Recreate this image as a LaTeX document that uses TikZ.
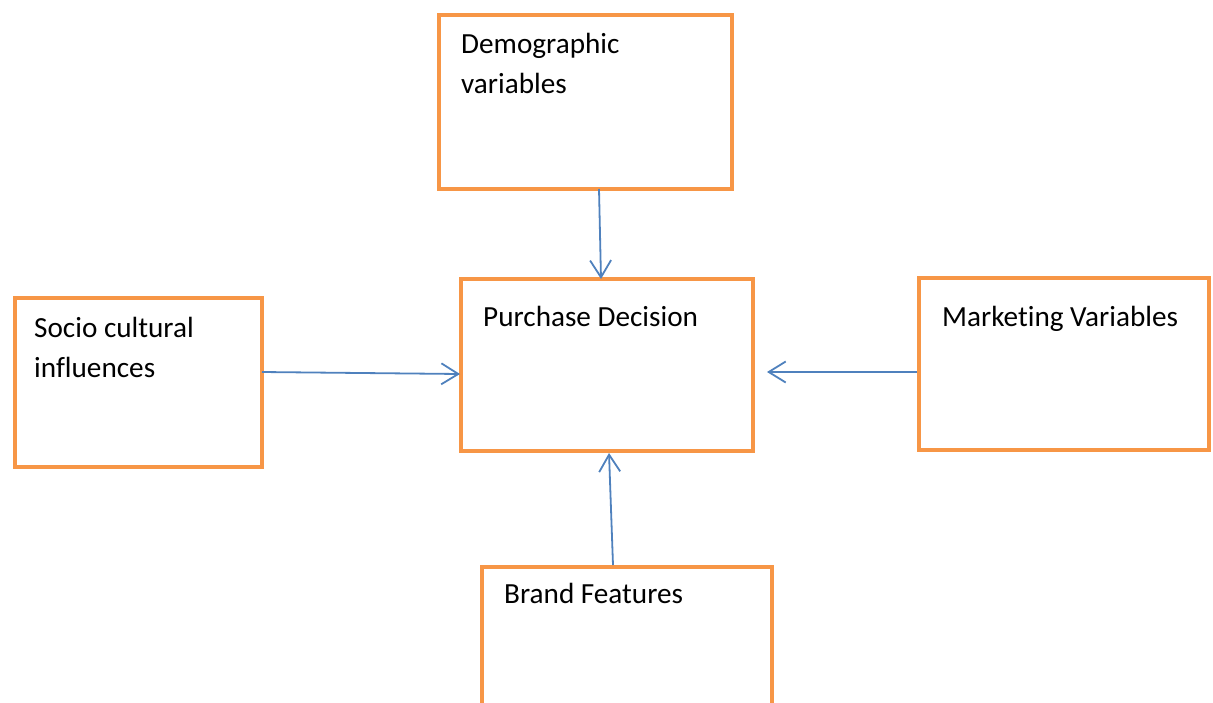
\documentclass[tikz,border=0pt]{standalone}
\usepackage{fontspec}
\setmainfont{Carlito}[Ligatures=NoCommon]
\usetikzlibrary{positioning,arrows.meta,calc}
\definecolor{boxorange}{RGB}{247,150,70}
\definecolor{arrowblue}{RGB}{79,129,189}

\begin{document}
\begin{tikzpicture}[
    x=1pt, y=-1pt,
    box/.style={rectangle, draw=boxorange, line width=4pt, inner sep=0pt, outer sep=0pt, minimum width=292pt, minimum height=172pt},
    txt/.style={anchor=base west, inner sep=0pt, align=left, font=\fontsize{29.2pt}{40pt}\selectfont},
    arr/.style={draw=arrowblue, line width=1.8pt, -{Straight Barb[length=17pt, width=21pt, line width=1.8pt]}}
]
\clip (0,0) rectangle (1213,702);

% boxes
\node[box] (decision) at (607,365) {};
\node[box, minimum width=293pt, minimum height=174pt, above=90pt of decision, xshift=-21.5pt] (demo) {};
\node[box, minimum width=247pt, minimum height=169pt, left=199pt of decision, yshift=-17.5pt] (socio) {};
\node[box, minimum width=290pt, right=166pt of decision, yshift=1pt] (market) {};
\node[box, minimum width=290pt, below=116pt of decision, xshift=20pt] (brand) {};

% texts (base = last line)
\node[txt] (demotxt) at ([shift={(22pt,-78pt)}]demo.north west) {Demographic\\variables};
\node[txt] (decisiontxt) at ([shift={(22pt,-47pt)}]decision.north west) {Purchase Decision};
\node[txt] (sociotxt) at ([shift={(19pt,-79pt)}]socio.north west) {Socio cultural\\influences};
\node[txt] (markettxt) at ([shift={(23pt,-48pt)}]market.north west) {Marketing Variables};
\node[txt] (brandtxt) at ([shift={(22pt,-36pt)}]brand.north west) {Brand Features};

% arrows
\draw[arr] ([xshift=13.5pt]demo.south) -- ([xshift=-6pt]decision.north);
\draw[arr] ([yshift=10.5pt]socio.east) -- ([xshift=-1pt, yshift=-9pt]decision.west);
\draw[arr] ([xshift=-2pt, yshift=-8pt]market.west) -- ([xshift=14pt, yshift=-7pt]decision.east);
\draw[arr] ([xshift=-14pt, yshift=2pt]brand.north) -- ([xshift=2pt, yshift=-2pt]decision.south);

\end{tikzpicture}
\end{document}
